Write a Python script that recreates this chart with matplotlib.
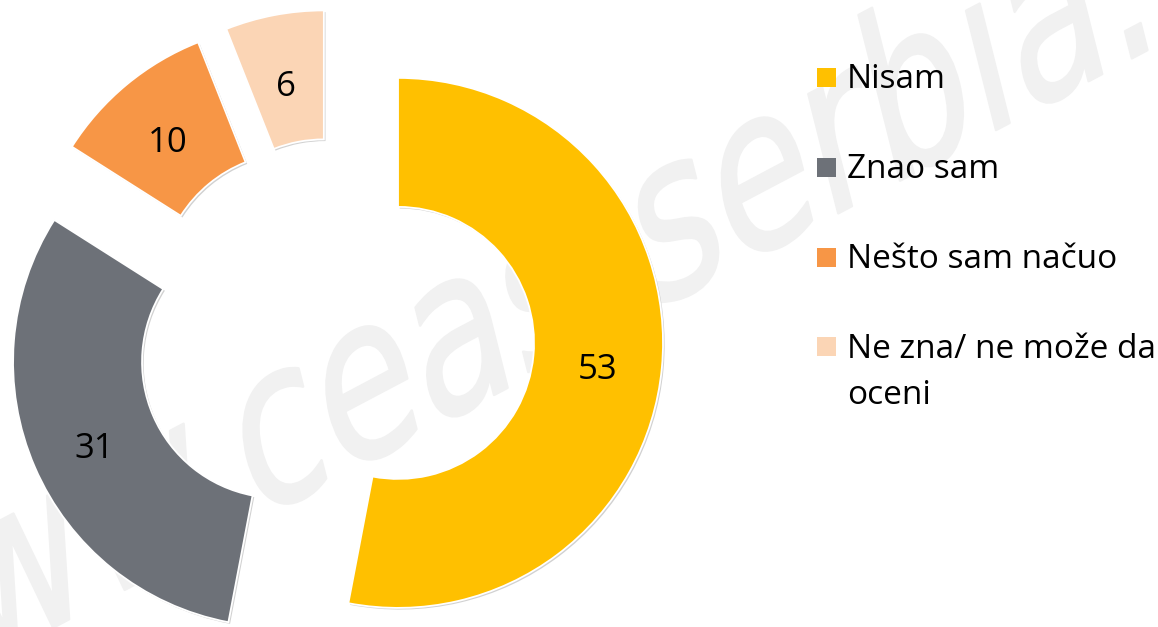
import matplotlib
matplotlib.use("Agg")
import matplotlib.pyplot as plt
from matplotlib.textpath import TextPath
from matplotlib.patches import PathPatch, Rectangle
from matplotlib.font_manager import FontProperties
from matplotlib.transforms import Affine2D
import matplotlib.patheffects as pe

# ---- data ----
categories = ["Nisam", "Znao sam", "Nešto sam načuo", "Ne zna/ ne može da\noceni"]
values = [53, 31, 10, 6]
colors = ["#FFC000", "#6D7178", "#F79646", "#FBD5B5"]
watermark = "www.ceas-serbia.org"

# ---- layout (pixels) ----
W, H = 1158, 627
R_PX = 265.0          # outer radius
RING_PX = 129.0       # ring width
EXPLODE_PX = 62.7
CX, CY = 335.6, 337.0  # common pie centre (image px, y down)

fig = plt.figure(figsize=(W / 100, H / 100), dpi=100)
fig.patch.set_facecolor("white")
ax = fig.add_axes([0, 0, 1, 1])

total = sum(values)
shadow = [pe.SimplePatchShadow(offset=(1.2, -1.2), shadow_rgbFace="#9a9a9a", alpha=0.45), pe.Normal()]
wedges, texts, autotexts = ax.pie(
    values,
    colors=colors,
    startangle=90,
    counterclock=False,
    radius=1.0,
    explode=[EXPLODE_PX / R_PX] * len(values),
    autopct=lambda p: f"{p * total / 100:.0f}",
    pctdistance=0.755,
    wedgeprops=dict(width=RING_PX / R_PX, edgecolor="white", linewidth=1.3, path_effects=shadow),
    textprops=dict(fontsize=25, family="Open Sans", color="black"),
)
for t in autotexts:
    t.set_y(t.get_position()[1] - 8 / R_PX)

ax.set_xlim(-CX / R_PX, (W - CX) / R_PX)
ax.set_ylim(-(H - CY) / R_PX, CY / R_PX)
ax.set_aspect("auto")
ax.axis("off")

# ---- watermark (behind the chart) ----
fp = FontProperties(family="DejaVu Sans")
S = 160
tp = TextPath((0, 0), watermark, size=S, prop=fp)
pre = TextPath((0, 0), watermark[:4], size=S, prop=fp)
c_local = (pre.get_extents().x1 + 0.33 * S, 0.28 * S)
base = Affine2D().rotate_deg(20).scale(1, 1.45)
cx_t, cy_t = base.transform(c_local)
base.translate(272 - cx_t, (H - 443) - cy_t)
to_fig = Affine2D().scale(1 / W, 1 / H) + fig.transFigure
ax.add_patch(PathPatch(tp, transform=base + to_fig, facecolor="#f1f1f1",
                       edgecolor="#f1f1f1", linewidth=1.8, joinstyle="round", zorder=0))

# ---- legend (manual) ----
def fx(x):
    return x / W

def fy(y):
    return 1 - y / H

row0, step, box = 77, 90, 19
for i, (lab, col) in enumerate(zip(categories, colors)):
    yc = row0 + step * i
    fig.add_artist(Rectangle((fx(817), fy(yc + box / 2)), box / W, box / H,
                             transform=fig.transFigure, facecolor=col, edgecolor="none"))
    for j, line in enumerate(lab.split("\n")):
        fig.text(fx(847), fy(yc + 11.5 + 45 * j), line, ha="left", va="baseline",
                 fontsize=24, family="Open Sans", color="black")

fig.savefig("out.png", dpi=100, facecolor="white")
